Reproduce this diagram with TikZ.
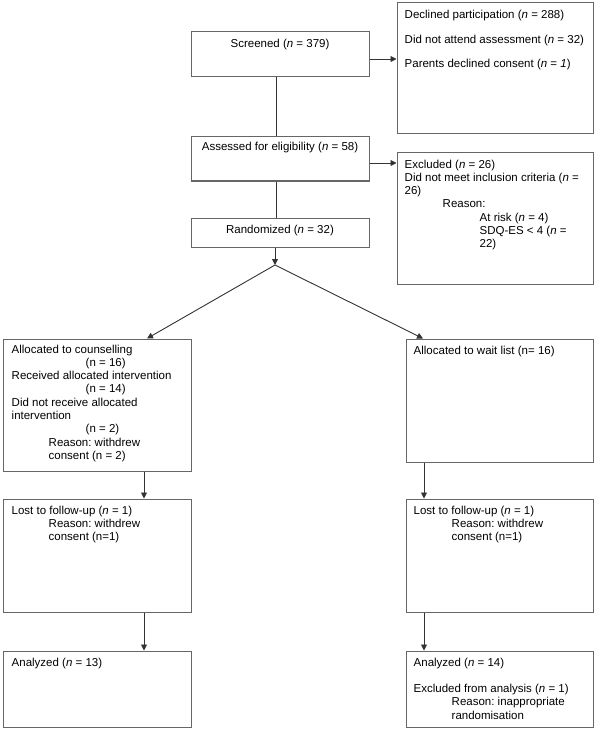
\documentclass[tikz,border=0pt]{standalone}
\usepackage{fontspec}
\setmainfont{Liberation Sans}
\usetikzlibrary{arrows.meta}
\definecolor{boxgray}{gray}{0.4}
\definecolor{linegray}{gray}{0.2}
\tikzset{
  box/.style = {draw = boxgray, line width = 1pt, inner sep = 0pt},
  txt/.style = {anchor = north west, inner sep = 0pt, align = left},
  ctxt/.style = {anchor = north, inner sep = 0pt, align = center},
  link/.style = {draw = linegray, line width = 0.9pt},
  arrow/.style = {link, -{Triangle[length = 6pt, width = 6pt]}}
}
\newcommand\nn{\textit{n}}
\frenchspacing
\begin{document}
\begin{tikzpicture}[x = 1pt, y = -1pt, font = \fontsize{11.5}{13.3}\selectfont]
\useasboundingbox (0,0) rectangle (600,730);
% screening stage
\node[box, minimum width = 178pt, minimum height = 45pt] (screen) at (280,54.5) {};
\node[box, minimum width = 196pt, minimum height = 131pt] (declined) at (495,68.5) {};
\node[box, minimum width = 178pt, minimum height = 44pt] (assess) at (280,159) {};
\node[box, minimum width = 196pt, minimum height = 131pt] (excl) at (495,218.5) {};
\node[box, minimum width = 178pt, minimum height = 29pt] (rand) at (280,232.5) {};
\coordinate (split) at (275,265);
% two arms
\node[box, minimum width = 188pt, minimum height = 132pt] (allocL) at (97,405) {};
\node[box, minimum width = 187pt, minimum height = 123pt] (allocR) at (499.5,400.5) {};
\node[box, minimum width = 188pt, minimum height = 113pt] (lostL) at (97,555.5) {};
\node[box, minimum width = 187pt, minimum height = 113pt] (lostR) at (499.5,555.5) {};
\node[box, minimum width = 188pt, minimum height = 76pt] (anaL) at (97,689) {};
\node[box, minimum width = 187pt, minimum height = 76pt] (anaR) at (499.5,689) {};
% texts
\node[ctxt] (screen-t) at ([yshift = -7pt]screen.north) {Screened (\nn{} = 379)};
\node[txt] (declined-t) at ([shift = {(8,7)}]declined.north west) {Declined participation (\nn{} = 288)\\[12pt]
  Did not attend assessment (\nn{} = 32)\\[11pt]
  Parents declined consent (\nn{} = \textit{1})};
\node[ctxt] (assess-t) at ([yshift = -5pt]assess.north) {Assessed for eligibility (\nn{} = 58)};
\node[txt] (excl-t) at ([shift = {(8,7)}]excl.north west) {Excluded (\nn{} = 26)\\
  Did not meet inclusion criteria (\nn{} =\\
  26)\\
  \hspace*{38pt}Reason:\\
  \hspace*{75pt}At risk (\nn{} = 4)\\
  \hspace*{75pt}SDQ-ES < 4 (\nn{} =\\
  \hspace*{75pt}22)};
\node[ctxt] (rand-t) at ([yshift = -7pt]rand.north) {Randomized (\nn{} = 32)};
\node[txt] (allocL-t) at ([shift = {(9,6)}]allocL.north west) {Allocated to counselling\\
  \hspace*{74pt}(n = 16)\\
  Received allocated intervention\\
  \hspace*{74pt}(n = 14)\\
  Did not receive allocated\\
  intervention\\
  \hspace*{74pt}(n = 2)\\
  \hspace*{37pt}Reason: withdrew\\
  \hspace*{37pt}consent (n = 2)};
\node[txt] (allocR-t) at ([shift = {(8,7)}]allocR.north west) {Allocated to wait list (n= 16)};
\node[txt] (lostL-t) at ([shift = {(9,7)}]lostL.north west) {Lost to follow-up (\nn{} = 1)\\
  \hspace*{37pt}Reason: withdrew\\
  \hspace*{37pt}consent (n=1)};
\node[txt] (lostR-t) at ([shift = {(8,7)}]lostR.north west) {Lost to follow-up (\nn{} = 1)\\
  \hspace*{38pt}Reason: withdrew\\
  \hspace*{38pt}consent (n=1)};
\node[txt] (anaL-t) at ([shift = {(9,7)}]anaL.north west) {Analyzed (\nn{} = 13)};
\node[txt] (anaR-t) at ([shift = {(8,7)}]anaR.north west) {Analyzed (\nn{} = 14)\\[13.3pt]
  Excluded from analysis (\nn{} = 1)\\
  \hspace*{38pt}Reason: inappropriate\\
  \hspace*{38pt}randomisation};
% connectors
\draw[arrow] ([yshift = -4.5pt]screen.east) -- ([yshift = -4.5pt]screen.east -| declined.west);
\draw[arrow] ([yshift = -4pt]assess.east) -- ([yshift = -4pt]assess.east -| excl.west);
\draw[link] ([xshift = -4pt]screen.south) -- ([xshift = -4pt]assess.north);
\draw[link] ([xshift = -4pt]assess.south) -- ([xshift = -4pt]rand.north);
\draw[arrow] ([xshift = -5pt]rand.south) -- (split);
\draw[arrow] (split) -- ([xshift = 50pt]allocL.north);
\draw[arrow] (split) -- ([xshift = -76.5pt]allocR.north);
\foreach \a/\b in {allocL/lostL, lostL/anaL}
  \draw[arrow] ([xshift = 47pt]\a.south) -- ([xshift = 47pt]\b.north);
\foreach \a/\b in {allocR/lostR, lostR/anaR}
  \draw[arrow] ([xshift = -75.5pt]\a.south) -- ([xshift = -75.5pt]\b.north);
\end{tikzpicture}
\end{document}
